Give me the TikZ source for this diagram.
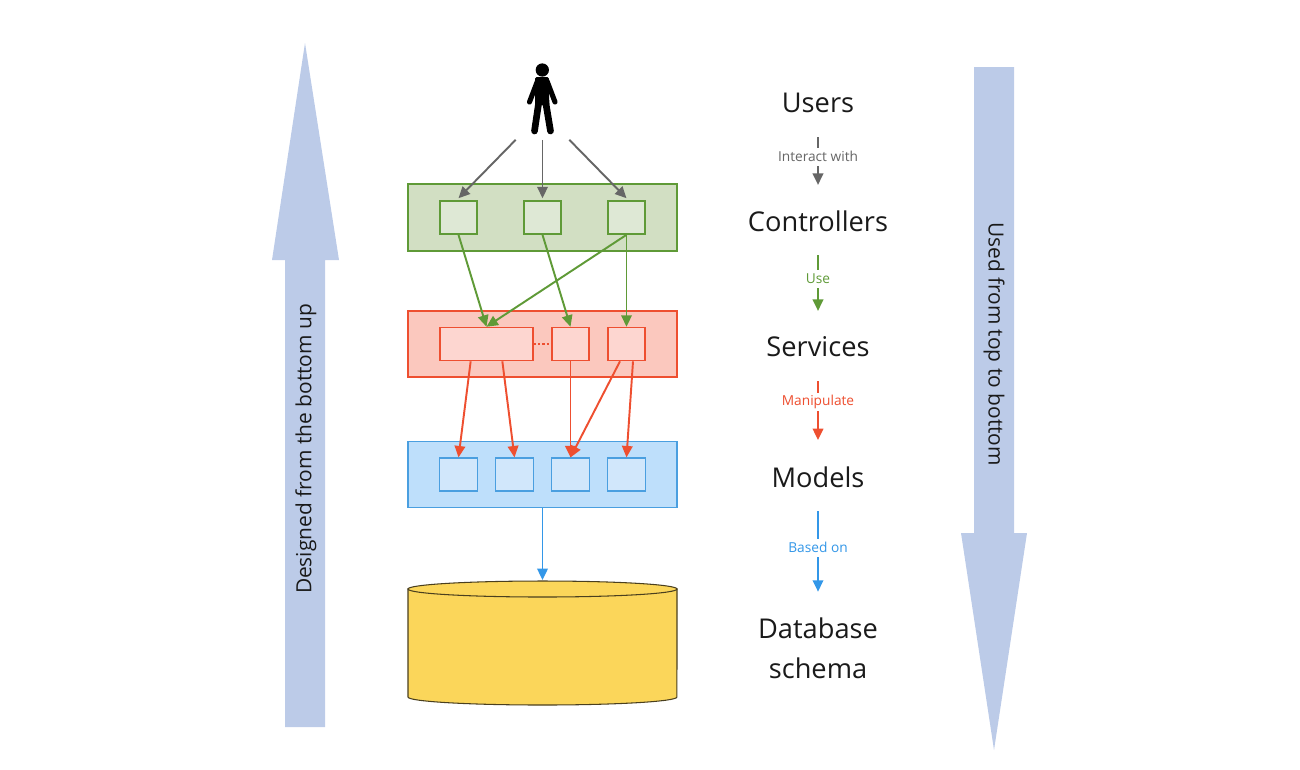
\documentclass[tikz,border=0pt]{standalone}
\usepackage{fontspec}
\setmainfont{Open Sans}
\usetikzlibrary{calc,arrows.meta}

\definecolor{bigarrow}{HTML}{BCCBE8}
\definecolor{ink}{HTML}{1A1A1A}
\definecolor{usergray}{HTML}{666666}
\definecolor{ctrlline}{HTML}{5F9A37}
\definecolor{ctrlfill}{HTML}{D2DFC3}
\definecolor{ctrlinner}{HTML}{DEE8D5}
\definecolor{svcline}{HTML}{EE4F30}
\definecolor{svcfill}{HTML}{FBC8BE}
\definecolor{svcinner}{HTML}{FDD6D0}
\definecolor{mdlline}{HTML}{4A9FE0}
\definecolor{mdlfill}{HTML}{BEDFFB}
\definecolor{mdlinner}{HTML}{D1E7FB}
\definecolor{dbarrow}{HTML}{3397E8}
\definecolor{dbfill}{HTML}{FBD65A}
\definecolor{dbline}{HTML}{4A3F1E}

\tikzset{
  layer/.style={draw=#1,line width=.9pt,minimum width=5.38cm,minimum height=1.33cm,inner sep=0},
  unit/.style={draw=#1,line width=.9pt,minimum width=.75cm,minimum height=.66cm,inner sep=0},
  flow/.style={draw=#1,line width=1.1pt,-{Triangle[length=6.5pt,width=6pt,fill=#1]}},
  title/.style={text=ink,font=\fontsize{15.5}{22.6}\selectfont,minimum height=1.36cm,inner sep=0,align=center},
  tag/.style={text=#1,fill=white,font=\fontsize{7.8}{9}\selectfont,inner sep=1pt,minimum height=.36cm},
  sidetext/.style={text=ink,font=\fontsize{11.9}{14}\selectfont},
}

\begin{document}
\begin{tikzpicture}[x=.02cm,y=-.02cm]
  \useasboundingbox (0,0) rectangle (1300,769);

  % big arrows at the sides
  \fill[bigarrow] (305,43) -- (339,260) -- (325,260) -- (325,727) -- (285,727) -- (285,260) -- (272,260) -- cycle;
  \fill[bigarrow] (994,750) -- (1027,533) -- (1014,533) -- (1014,67) -- (974,67) -- (974,533) -- (961,533) -- cycle;
  \node[sidetext,rotate=90] (designed) at (306,449) {Designed from the bottom up};
  \node[sidetext,rotate=-90] (used) at (994,344) {Used from top to bottom};

  % person
  \node[minimum width=1.06cm,minimum height=1.58cm,inner sep=0] (users) at (542.5,100) {};
  \fill[black] (542.3,70) circle (.133cm);
  \draw[black,line width=2.9pt,line cap=round] (537.5,81) -- (529.5,102);
  \draw[black,line width=2.9pt,line cap=round] (547,81) -- (555,102);
  \fill[black,draw=black,line width=1.5pt,line join=round]
    (536.5,78.5) -- (547.5,78.5) -- (548,104) -- (536.5,104) -- cycle;
  \draw[black,line width=3.8pt,line cap=round] (538.5,104) -- (534.5,131);
  \draw[black,line width=3.8pt,line cap=round] (546,104) -- (550.5,131);

  % controllers
  \node[layer=ctrlline,fill=ctrlfill] (controllers) at (542.5,217.5) {};
  \node[unit=ctrlline,fill=ctrlinner] (c1) at (458.5,217.5) {};
  \node[unit=ctrlline,fill=ctrlinner] (c2) at (542.5,217.5) {};
  \node[unit=ctrlline,fill=ctrlinner] (c3) at (626.5,217.5) {};

  % services
  \node[layer=svcline,fill=svcfill] (services) at (542.5,344) {};
  \node[unit=svcline,fill=svcinner,minimum width=1.87cm] (s1) at (486.5,344) {};
  \node[unit=svcline,fill=svcinner] (s2) at (570.5,344) {};
  \node[unit=svcline,fill=svcinner] (s3) at (626.5,344) {};
  \draw[svcline,line width=.6pt,dash pattern=on 1.2pt off 1.2pt] (s1) -- (s2);

  % models
  \node[layer=mdlline,fill=mdlfill,line width=.7pt] (models) at (542.5,474.5) {};
  \node[unit=mdlline,fill=mdlinner,line width=.7pt] (m1) at (458.5,474.5) {};
  \node[unit=mdlline,fill=mdlinner,line width=.7pt] (m2) at (514.5,474.5) {};
  \node[unit=mdlline,fill=mdlinner,line width=.7pt] (m3) at (570.5,474.5) {};
  \node[unit=mdlline,fill=mdlinner,line width=.7pt] (m4) at (626.5,474.5) {};

  % database
  \coordinate (dbtop) at (542.5,580);
  \draw[fill=dbfill,draw=dbline,line width=.6pt] (408,589) -- (408,697) arc[start angle=180,end angle=360,x radius=2.69cm,y radius=.16cm] -- (677,589) -- cycle;
  \draw[fill=dbfill,draw=dbline,line width=.6pt] (542.5,589) ellipse[x radius=2.69cm,y radius=.16cm];

  % arrows between the layers
  \draw[flow=usergray] (users.south west) -- ([yshift=.04cm]c1.north);
  \draw[flow=usergray] (users.south) -- ([yshift=.04cm]c2.north);
  \draw[flow=usergray] (users.south east) -- ([yshift=.04cm]c3.north);
  \draw[flow=ctrlline] (c1.south) -- (s1.north);
  \draw[flow=ctrlline] (c2.south) -- (s2.north);
  \draw[flow=ctrlline] (c3.south) -- (s1.north);
  \draw[flow=ctrlline] (c3.south) -- (s3.north);
  \draw[flow=svcline] ($(s1.south west)!1/3!(s1.south east)$) -- (m1.north);
  \draw[flow=svcline] ($(s1.south west)!2/3!(s1.south east)$) -- (m2.north);
  \draw[flow=svcline] (s2.south) -- (m3.north);
  \draw[flow=svcline] ($(s3.south west)!1/3!(s3.south east)$) -- (m3.north);
  \draw[flow=svcline] ($(s3.south west)!2/3!(s3.south east)$) -- (m4.north);
  \draw[flow=dbarrow] (models.south) -- (dbtop);

  % legend on the right
  \node[title] (lusers) at (818,103) {Users};
  \node[title] (lcontrollers) at (818,221) {Controllers};
  \node[title] (lservices) at (818,347) {Services};
  \node[title] (lmodels) at (818,477) {Models};
  \node[title,minimum height=2.24cm] (lschema) at (818,648) {Database\\schema};

  \draw[flow=usergray,shorten >=1pt] (lusers) -- node[tag=usergray,pos=.39] (tinteract) {Interact with} (lcontrollers);
  \draw[flow=ctrlline,shorten >=1pt] (lcontrollers) -- node[tag=ctrlline,pos=.41] (tuse) {Use} (lservices);
  \draw[flow=svcline,shorten >=1.5pt] (lservices) -- node[tag=svcline,pos=.33] (tmanipulate) {Manipulate} (lmodels);
  \draw[flow=dbarrow] (lmodels) -- node[tag=dbarrow,pos=.45] (tbased) {Based on} (lschema);
\end{tikzpicture}
\end{document}
